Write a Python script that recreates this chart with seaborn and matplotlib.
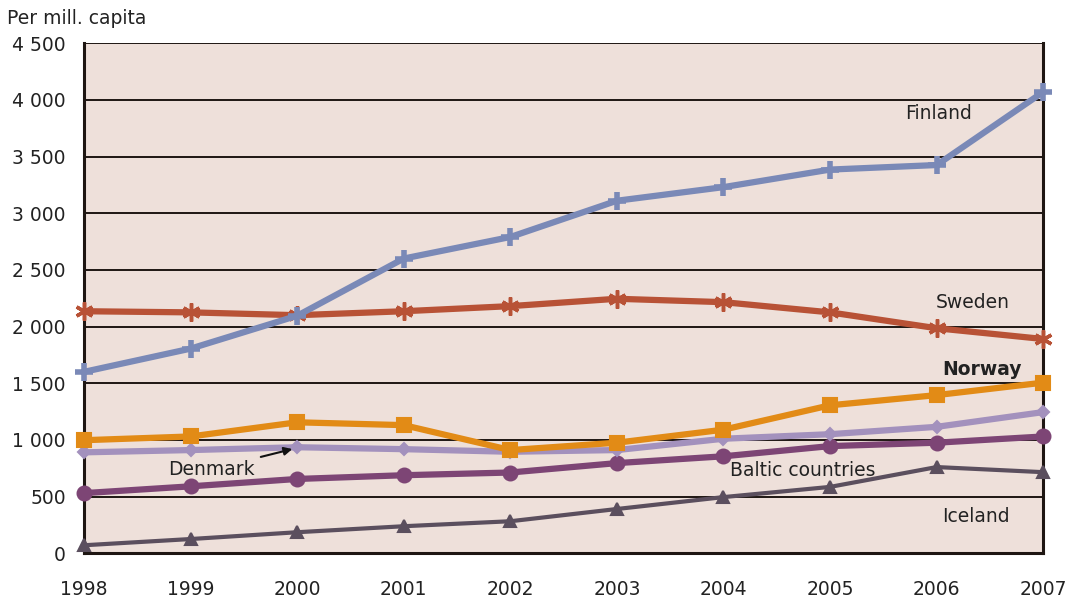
import matplotlib
matplotlib.use("Agg")
import matplotlib.pyplot as plt
import seaborn as sns
import pandas as pd

years = [1998, 1999, 2000, 2001, 2002, 2003, 2004, 2005, 2006, 2007]
finland = [1600, 1805, 2095, 2600, 2790, 3110, 3230, 3385, 3425, 4070]
sweden = [2135, 2125, 2100, 2135, 2180, 2245, 2215, 2125, 1985, 1890]
norway = [997, 1030, 1155, 1130, 910, 975, 1090, 1305, 1395, 1505]
denmark = [890, 910, 935, 918, 895, 910, 1010, 1050, 1115, 1245]
baltic = [530, 590, 655, 688, 712, 795, 855, 945, 975, 1030]
iceland = [70, 125, 185, 238, 282, 390, 495, 585, 760, 715]
yticks = [0, 500, 1000, 1500, 2000, 2500, 3000, 3500, 4000, 4500]
ytick_labels = ["0", "500", "1 000", "1 500", "2 000", "2 500", "3 000", "3 500", "4 000", "4 500"]

sns.set_style("white")
plt.rcParams['font.family'] = ['DejaVu Sans']

fig = plt.figure(figsize=(10.7, 6.0), dpi=100)
ax = fig.add_axes([0.0785, 0.078, 0.8965, 0.85])
ax.set_facecolor("#EEE0DA")

series = [
    ("Iceland", iceland, "#5B4F5E", "^", 3.0, 9, 1.5),
    ("Baltic countries", baltic, "#7D4575", "o", 4.5, 10, 1.5),
    ("Denmark", denmark, "#A391BD", "D", 4.5, 6, 1.5),
    ("Norway", norway, "#E28B16", "s", 4.5, 10, 1.5),
    ("Sweden", sweden, "#B85236", (6, 2, 0), 4.5, 13, 2.5),
    ("Finland", finland, "#7A89B7", "+", 4.5, 13, 4.0),
]
for name, vals, col, mk, lw, ms, mew in series:
    df = pd.DataFrame({"year": years, "value": vals})
    sns.lineplot(data=df, x="year", y="value", ax=ax, color=col, linewidth=lw,
                 marker=mk, markersize=ms, markeredgecolor=col, markeredgewidth=mew,
                 clip_on=False, zorder=3)

ax.set_xlim(1998, 2007)
ax.set_ylim(0, 4500)
ax.set_yticks(yticks)
ax.set_yticklabels(ytick_labels, fontsize=13.5, color="#222222")
ax.set_xticks(years)
ax.set_xticklabels([str(y) for y in years], fontsize=13.5, color="#222222")
ax.set_xlabel("")
ax.set_ylabel("")
ax.grid(False)
for y in yticks[1:]:
    ax.axhline(y, color="#1E1612", linewidth=1.4, zorder=1)
for s in ["left", "bottom", "right"]:
    ax.spines[s].set_visible(True)
    ax.spines[s].set_color("#1E1612")
    ax.spines[s].set_linewidth(2.2)
ax.spines["top"].set_visible(False)
ax.tick_params(axis="both", direction="out", length=6, width=2, color="#1E1612")
ax.tick_params(axis="x", pad=13)
ax.tick_params(axis="y", pad=7)

fig.text(0.007, 0.97, "Per mill. capita", fontsize=13.5, color="#222222", va="center")

tc = "#222222"
fs = 13.5
ax.text(2005.70, 3880, "Finland", fontsize=fs, color=tc, va="center")
ax.text(2005.99, 2214, "Sweden", fontsize=fs, color=tc, va="center")
ax.text(2006.05, 1623, "Norway", fontsize=fs, fontweight="bold", color=tc, va="center")
ax.text(2004.06, 732, "Baltic countries", fontsize=fs, color=tc, va="center")
ax.text(2006.05, 326, "Iceland", fontsize=fs, color=tc, va="center")
ax.annotate("Denmark", xy=(1999.98, 925), xytext=(1998.79, 741), fontsize=fs, color=tc,
            va="center",
            arrowprops=dict(arrowstyle="-|>", color="#111111", lw=1.5, mutation_scale=12,
                            shrinkA=2, shrinkB=2))

fig.savefig("out.png", dpi=100)
